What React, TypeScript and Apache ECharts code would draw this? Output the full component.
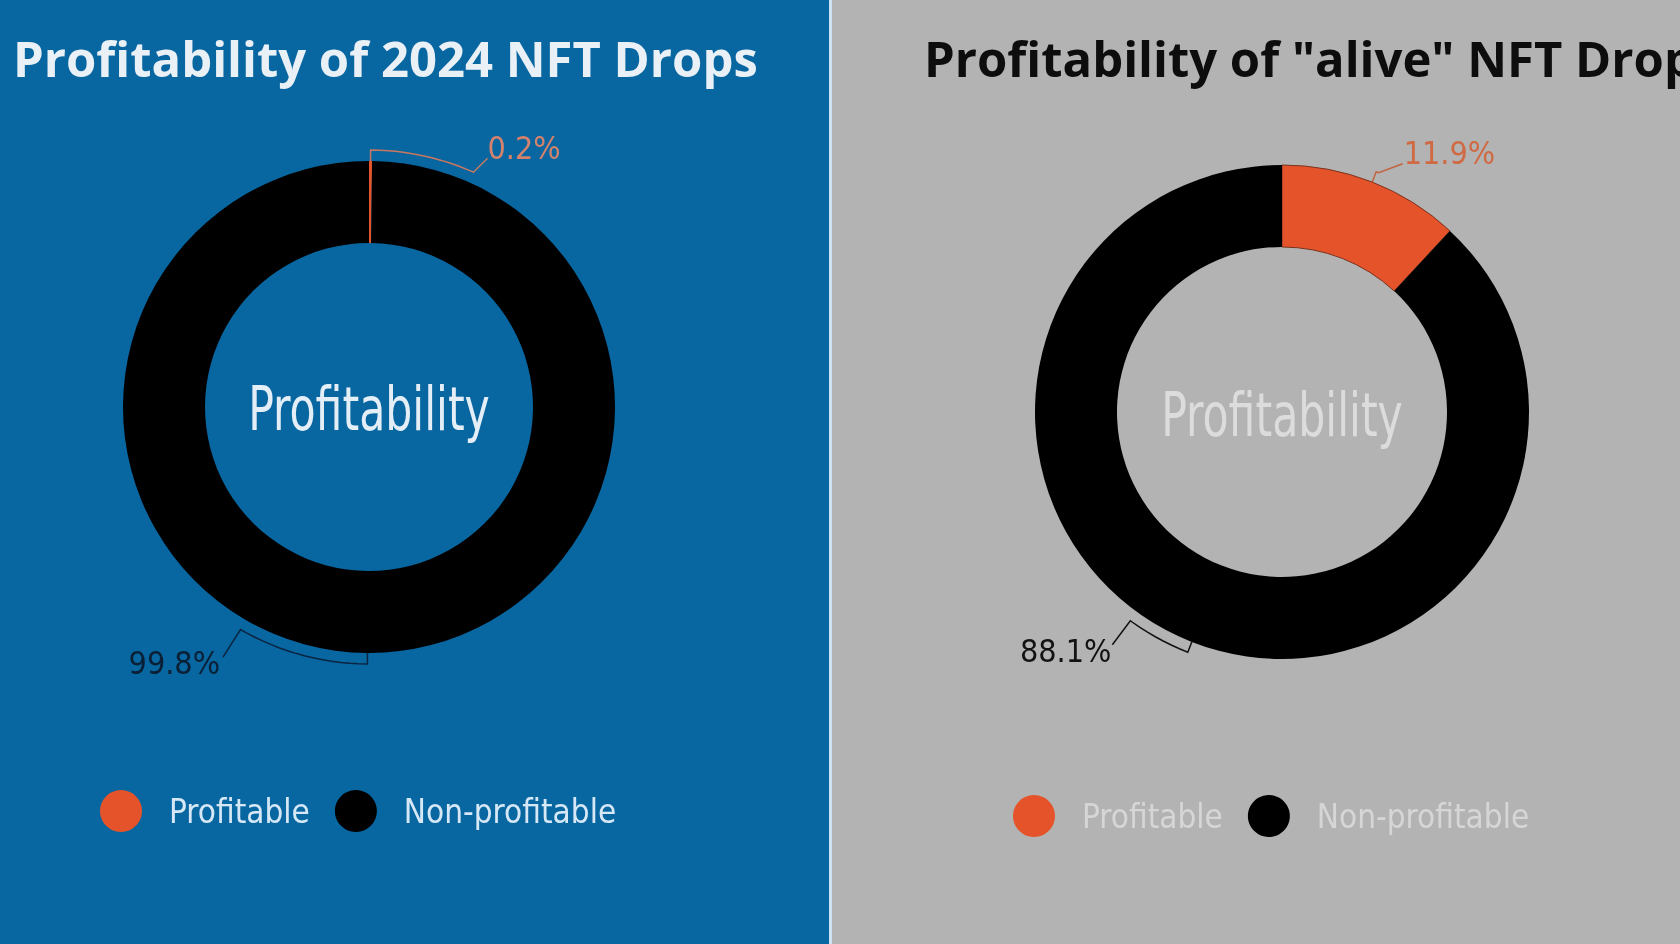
import React, { useEffect, useRef } from 'react';
import * as echarts from 'echarts';

// ---- data ----
const categories = ['Profitable', 'Non-profitable'];
const allDropsShare = [0.2, 99.8];
const aliveDropsShare = [11.9, 88.1];
const chartTitles = ['Profitability of 2024 NFT Drops', 'Profitability of "alive" NFT Drops'];
const centerLabel = 'Profitability';

// ---- styles ----
const NARROW = '"Liberation Sans Narrow", "DejaVu Sans Condensed", "Roboto Condensed", sans-serif';
const SLICE_COLORS = ['#e4532a', '#000000'];

type Leader = { arcEnd: number; leg: [number, number]; anchor: [number, number]; align: 'left' | 'right' };

const panels = [
  {
    shares: allDropsShare,
    cx: 369, cy: 407, r0: 164, r: 246,
    labelColors: ['#d4826c', '#0b1f35'],
    lineColors: ['#c9785f', '#0b2440'],
    sliceBorder: ['transparent', 'transparent'],
    legendLeft: 100, legendTop: 790, legendColor: '#d6e8f6',
    centerColor: '#e4eef6', centerY: 409,
    titleLeft: 13, titleColor: '#e9f0f6',
    leaders: [
      { arcEnd: 24, leg: [14, -14], anchor: [0, -10], align: 'left' },
      { arcEnd: 210, leg: [-17.5, 27.5], anchor: [-3, 6], align: 'right' },
    ] as Leader[],
  },
  {
    shares: aliveDropsShare,
    cx: 1282, cy: 412, r0: 165, r: 247,
    labelColors: ['#cf6a44', '#121212'],
    lineColors: ['#c2643e', '#111111'],
    sliceBorder: ['#7a3420', 'transparent'],
    legendLeft: 1013, legendTop: 795, legendColor: '#d6d6d6',
    centerColor: '#dcdcdc', centerY: 415,
    titleLeft: 924, titleColor: '#0d0d0d',
    leaders: [
      { arcEnd: 22, leg: [24, -9], anchor: [1, -11], align: 'left' },
      { arcEnd: 216, leg: [-18, 24], anchor: [-1, 6], align: 'right' },
    ] as Leader[],
  },
];

function buildOption() {
  const series = panels.map((p, si) => {
    const total = p.shares.reduce((a, b) => a + b, 0);
    const pt = (a: number, rad: number) => [
      p.cx + rad * Math.sin((a * Math.PI) / 180),
      p.cy - rad * Math.cos((a * Math.PI) / 180),
    ];
    return {
      type: 'pie',
      name: chartTitles[si],
      center: [p.cx, p.cy],
      radius: [p.r0, p.r],
      startAngle: 90,
      clockwise: true,
      avoidLabelOverlap: false,
      silent: true,
      emphasis: { disabled: true },
      data: categories.map((name, i) => ({
        name,
        value: p.shares[i],
        itemStyle: {
          color: SLICE_COLORS[i],
          borderColor: p.sliceBorder[i],
          borderWidth: p.sliceBorder[i] === 'transparent' ? 0 : 1,
        },
        label: { color: p.labelColors[i] },
        labelLine: { lineStyle: { color: p.lineColors[i] } },
      })),
      label: {
        show: true,
        position: 'outside',
        formatter: (q: any) => Number(q.value).toFixed(1) + '%',
        fontFamily: NARROW,
        fontSize: 32,
      },
      labelLine: { show: true, length: 10, length2: 10, smooth: false, lineStyle: { width: 1.5 } },
      labelLayout: (params: any) => {
        const i = params.dataIndex;
        let cum = 0;
        for (let j = 0; j < i; j++) cum += p.shares[j];
        const mid = ((cum + p.shares[i] / 2) / total) * 360;
        const L = p.leaders[i];
        const rr = p.r + 11;
        const pts: number[][] = [pt(mid, p.r), pt(mid, rr)];
        let a = mid;
        while (L.arcEnd - a > 2) {
          a += 2;
          pts.push(pt(a, rr));
        }
        const last = pt(L.arcEnd, rr);
        pts.push(last);
        const end = [last[0] + L.leg[0], last[1] + L.leg[1]];
        pts.push(end);
        return {
          x: end[0] + L.anchor[0],
          y: end[1] + L.anchor[1],
          align: L.align,
          verticalAlign: 'middle',
          labelLinePoints: pts,
        };
      },
    };
  });

  return {
    animation: false,
    title: panels.map((p, si) => ({
      text: chartTitles[si],
      left: p.titleLeft,
      top: 33,
      padding: 0,
      textStyle: {
        fontFamily: '"Open Sans", sans-serif',
        fontWeight: 'bold',
        fontSize: 49,
        color: p.titleColor,
      },
    })),
    legend: panels.map((p) => ({
      data: categories,
      left: p.legendLeft,
      top: p.legendTop,
      padding: 0,
      orient: 'horizontal',
      icon: 'circle',
      itemWidth: 42,
      itemHeight: 42,
      itemGap: 25,
      selectedMode: false,
      textStyle: {
        color: p.legendColor,
        fontFamily: NARROW,
        fontSize: 33,
        padding: [0, 0, 0, 22],
      },
    })),
    graphic: [
      { type: 'rect', z: -10, shape: { x: 0, y: 0, width: 829, height: 944 }, style: { fill: '#0866a1' }, silent: true },
      { type: 'rect', z: -10, shape: { x: 829, y: 0, width: 3, height: 944 }, style: { fill: '#cde2f2' }, silent: true },
      { type: 'rect', z: -10, shape: { x: 832, y: 0, width: 848, height: 944 }, style: { fill: '#b3b3b3' }, silent: true },
      ...panels.map((p) => ({
        type: 'text',
        x: p.cx,
        y: p.centerY,
        scaleX: 0.79,
        silent: true,
        style: {
          text: centerLabel,
          fill: p.centerColor,
          fontFamily: NARROW,
          fontSize: 60,
          align: 'center',
          verticalAlign: 'middle',
        },
      })),
    ],
    series,
  };
}

export default function App() {
  const ref = useRef<HTMLDivElement>(null);
  useEffect(() => {
    if (!ref.current) return;
    const chart = echarts.init(ref.current, undefined, { renderer: 'svg' });
    chart.setOption(buildOption() as any);
    return () => chart.dispose();
  }, []);
  return (
    <div
      ref={ref}
      style={{ position: 'fixed', left: 0, top: 0, width: 1680, height: 944, overflow: 'hidden' }}
    />
  );
}
